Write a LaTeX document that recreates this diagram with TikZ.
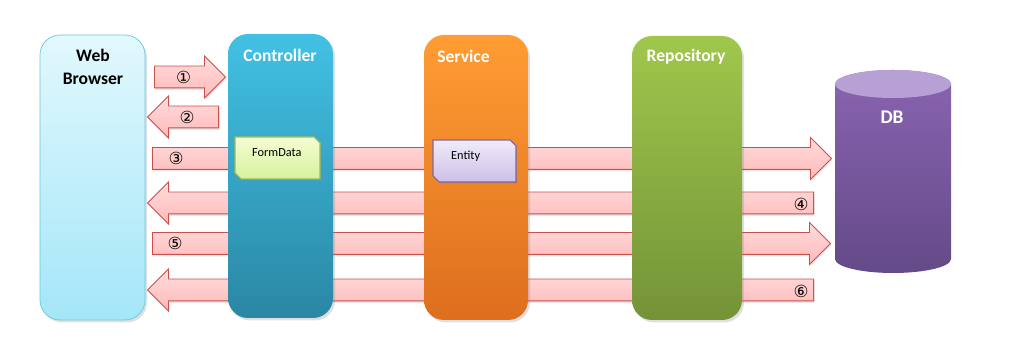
\documentclass[tikz,border=0pt]{standalone}
\usepackage{fontspec}
\setmainfont{Carlito}
\newfontfamily\circfont{DejaVu Sans}
\usepackage{tikz}
\usetikzlibrary{shapes.arrows, shapes.misc, shadows}
\definecolor{brTop}{HTML}{E2F8FD}
\definecolor{brBot}{HTML}{A4E6F8}
\definecolor{brEdge}{HTML}{6CC6E0}
\definecolor{ctTop}{HTML}{42C1E4}
\definecolor{ctBot}{HTML}{2A87A4}
\definecolor{svTop}{HTML}{FF9C33}
\definecolor{svBot}{HTML}{DD6E1E}
\definecolor{rpTop}{HTML}{A0C74C}
\definecolor{rpBot}{HTML}{749338}
\definecolor{dbTop}{HTML}{8A64B2}
\definecolor{dbBot}{HTML}{644A88}
\definecolor{dbCap}{HTML}{B7A1D4}
\definecolor{arTop}{HTML}{FFDCDC}
\definecolor{arBot}{HTML}{FFB9B9}
\definecolor{arEdge}{HTML}{C9504D}
\definecolor{fdTop}{HTML}{F5FDD2}
\definecolor{fdBot}{HTML}{D6F19E}
\definecolor{fdEdge}{HTML}{9BBB59}
\definecolor{enTop}{HTML}{F0EBFA}
\definecolor{enBot}{HTML}{CDBFE8}
\definecolor{enEdge}{HTML}{8064A2}
\def\px{0.02cm}

\begin{document}
\begin{tikzpicture}[x=0.02cm, y=-0.02cm,
  every node/.style={font=\fontsize{10}{13}\selectfont\bfseries},
  col/.style={rounded corners=0.4cm, inner sep=0pt, minimum width=105*\px, minimum height=285*\px,
    drop shadow={shadow xshift=0.04cm, shadow yshift=-0.05cm, opacity=0.25}},
  barrow/.style={single arrow, draw=arEdge, top color=arTop, bottom color=arBot, line width=0.5pt,
    inner xsep=0pt, inner ysep=10.5*\px, single arrow head extend=10*\px, single arrow tip angle=90,
    anchor=tail, drop shadow={shadow xshift=0.02cm, shadow yshift=-0.04cm, opacity=0.2}},
  note/.style={line width=0.6pt, drop shadow={shadow xshift=0.02cm, shadow yshift=-0.03cm, opacity=0.3}},
  ttl/.style={text=white},
  num/.style={font=\circfont\fontsize{9.5}{10}\selectfont},
  small/.style={font=\fontsize{7}{8}\selectfont}]
\useasboundingbox (0,0) rectangle (1010,357);

% Web browser column
\node[col, top color=brTop, bottom color=brBot, draw=brEdge] (browser) at (92.5,177.5) {};
\node[align=center] (tBrowser) at (93,66.5) {Web\\Browser};

% block arrows (they run behind the layer columns)
\node[barrow, minimum height=71*\px] (a1) at (154,77) {};
\node[barrow, shape border rotate=180, minimum height=71*\px] (a2) at (219,117) {};
\node[barrow, minimum height=679*\px] (a3) at (152,158.5) {};
\node[barrow, shape border rotate=180, minimum height=666*\px] (a4) at (814,203) {};
\node[barrow, minimum height=678*\px] (a5) at (152,243.5) {};
\node[barrow, shape border rotate=180, minimum height=666*\px] (a6) at (814,290) {};

% layer columns
\node[col, top color=ctTop, bottom color=ctBot, minimum height=284*\px] (ctrl) at (280.5,176) {};
\node[col, top color=svTop, bottom color=svBot, minimum width=104*\px] (svc) at (476,177.5) {};
\node[col, top color=rpTop, bottom color=rpBot, minimum width=110*\px, minimum height=284*\px] (repo) at (687,178) {};
\node[ttl] (tCtrl) at (280,55) {Controller};
\node[ttl] (tSvc) at (463.5,56) {Service};
\node[ttl] (tRepo) at (686,57) {Repository};

% data objects: notes with two clipped corners
\shade[note, top color=fdTop, bottom color=fdBot, draw=fdEdge]
  (235,137) -- (314,137) -- (320,143) -- (320,179) -- (241,179) -- (235,173) -- cycle;
\node[small, anchor=west] (tForm) at (246,153) {FormData};
\shade[note, top color=enTop, bottom color=enBot, draw=enEdge]
  (433,140) -- (510,140) -- (516,146) -- (516,182) -- (439,182) -- (433,176) -- cycle;
\node[small, anchor=west] (tEntity) at (445,156) {Entity};

% DB cylinder
\shade[top color=dbTop, bottom color=dbBot] (835,84) -- (835,259) arc (180:0:58 and 14) -- (951,84) arc (0:-180:58 and 14) -- cycle;
\fill[dbCap] (893,84) ellipse (58 and 14);
\node[ttl, font=\fontsize{11}{13}\selectfont\bfseries] (tDb) at (892,117) {DB};

% step numbers
\node[num] (n1) at (183.5,77) {①};
\node[num] (n2) at (187,117) {②};
\node[num] (n3) at (176,158) {③};
\node[num] (n4) at (801,204) {④};
\node[num] (n5) at (175,243) {⑤};
\node[num] (n6) at (801,291) {⑥};
\end{tikzpicture}
\end{document}
